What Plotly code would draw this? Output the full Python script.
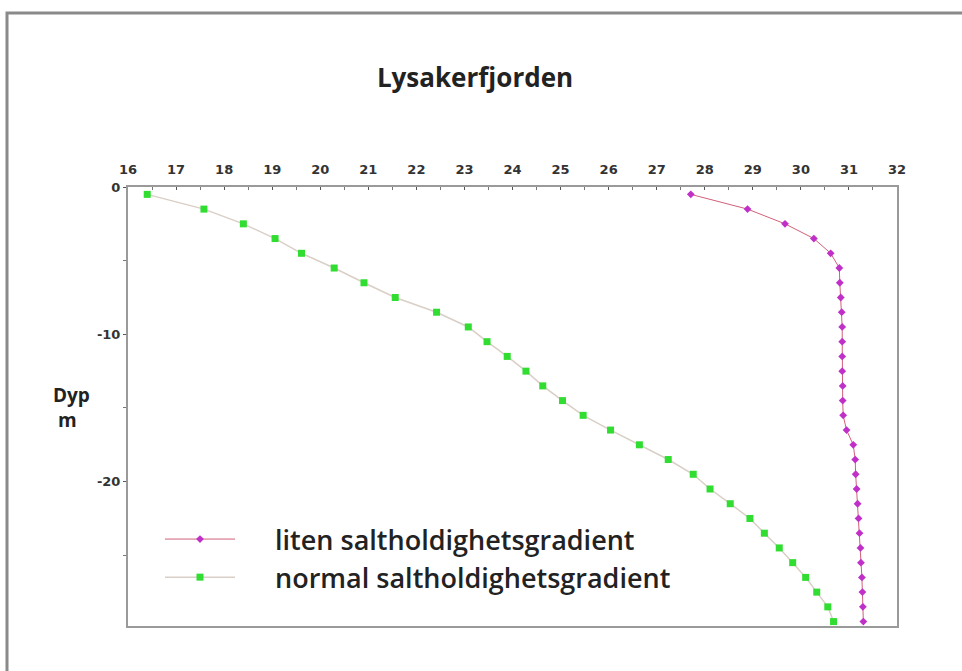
import plotly.graph_objects as go

depth = [-0.5, -1.5, -2.5, -3.5, -4.5, -5.5, -6.5, -7.5, -8.5, -9.5,
         -10.5, -11.5, -12.5, -13.5, -14.5, -15.5, -16.5, -17.5, -18.5, -19.5,
         -20.5, -21.5, -22.5, -23.5, -24.5, -25.5, -26.5, -27.5, -28.5, -29.5]

liten = [27.71, 28.89, 29.67, 30.27, 30.62, 30.80, 30.81, 30.83, 30.85, 30.86,
         30.86, 30.86, 30.86, 30.87, 30.87, 30.88, 30.95, 31.09, 31.13, 31.14,
         31.16, 31.18, 31.20, 31.22, 31.24, 31.25, 31.27, 31.28, 31.29, 31.30]

normal = [16.40, 17.58, 18.40, 19.06, 19.61, 20.29, 20.91, 21.56, 22.42, 23.08,
          23.47, 23.89, 24.28, 24.63, 25.04, 25.47, 26.04, 26.64, 27.24, 27.76,
          28.11, 28.53, 28.94, 29.24, 29.55, 29.83, 30.10, 30.33, 30.56, 30.68]

series_names = ["liten saltholdighetsgradient", "normal saltholdighetsgradient"]

x_ticks = list(range(16, 33))
y_ticks = [0, -10, -20]

pad = "\u00a0" * 5

fig = go.Figure()
fig.add_trace(go.Scatter(
    x=liten, y=depth, mode="lines+markers",
    name=pad + series_names[0],
    line=dict(color="#d0607a", width=1),
    marker=dict(color="#c030c8", size=6, symbol="diamond"),
))
fig.add_trace(go.Scatter(
    x=normal, y=depth, mode="lines+markers",
    name=pad + series_names[1],
    line=dict(color="#d9cfc6", width=1.5),
    marker=dict(color="#30dd30", size=7, symbol="square"),
))

axis_col = "#9a9a9a"
tick_font = dict(family="DejaVu Sans", size=13, color="#333333", weight="bold")

fig.update_xaxes(
    side="top", range=[16, 32], tickvals=x_ticks, ticktext=[str(v) for v in x_ticks],
    showgrid=False, zeroline=False, showline=True, linecolor=axis_col, linewidth=2,
    mirror=True, ticks="inside", ticklen=3, tickcolor="#555", tickwidth=1,
    minor=dict(dtick=0.5, ticks="inside", ticklen=3, tickcolor="#777"),
    tickfont=tick_font, ticklabelstandoff=6, fixedrange=True,
)
fig.update_yaxes(
    range=[-29.8, 0], tickvals=y_ticks, ticktext=[str(v) for v in y_ticks],
    showgrid=False, zeroline=False, showline=True, linecolor=axis_col, linewidth=2,
    mirror=True, ticks="outside", ticklen=3, tickcolor="#555", tickwidth=1,
    minor=dict(tickvals=[-5, -15, -25], ticks="outside", ticklen=3, tickcolor="#777"),
    tickfont=tick_font, fixedrange=True,
)

fig.update_layout(
    width=962, height=671,
    margin=dict(l=128, r=65, t=187, b=45),
    paper_bgcolor="white", plot_bgcolor="white",
    title=dict(text="Lysakerfjorden", x=475 / 962, xanchor="center",
               y=1 - 78 / 671, yanchor="middle",
               font=dict(family="Open Sans", size=26, color="#222222", weight=700)),
    legend=dict(x=(160 - 128) / 769, y=(626 - 515) / 439, xanchor="left", yanchor="top",
                bgcolor="rgba(0,0,0,0)", itemwidth=70,
                font=dict(family="Open Sans", size=27, color="#222222", weight=600),
                tracegroupgap=0),
    showlegend=True,
    shapes=[dict(type="rect", xref="paper", yref="paper",
                 x0=(7 - 128) / 769, x1=(975 - 128) / 769,
                 y0=(626 - 690) / 439, y1=(626 - 13) / 439,
                 line=dict(color="#8a8a8a", width=3), layer="below")],
    annotations=[dict(text="Dyp<br> m", xref="paper", yref="paper",
                      x=(51 - 128) / 769, xanchor="left", y=(626 - 407) / 439,
                      showarrow=False, align="left",
                      font=dict(family="Open Sans", size=19, color="#222222", weight=700))],
)

fig.write_html("out.html")
